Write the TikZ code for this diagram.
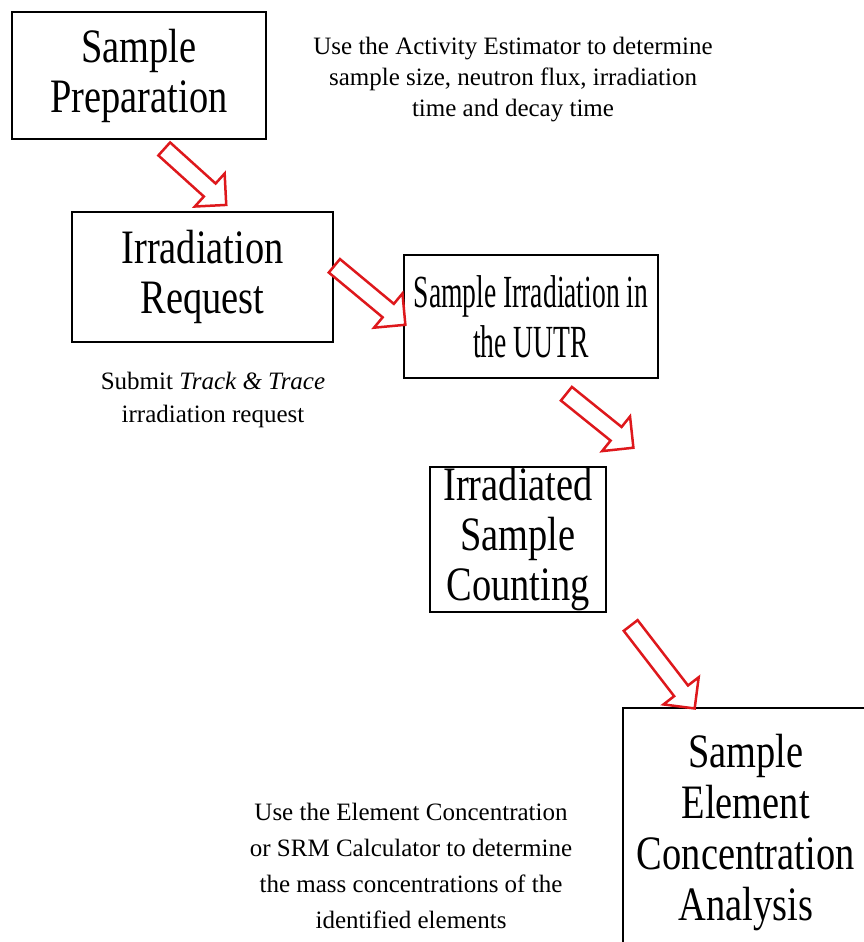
\documentclass[tikz,border=0pt]{standalone}
\usepackage{fontspec}
\setmainfont{Liberation Serif}
\newfontfamily\boxfont{Liberation Serif}[FakeStretch=0.8]
\newfontfamily\narrowfont{Liberation Serif}[FakeStretch=0.6]
\usetikzlibrary{calc,shapes.arrows}
\definecolor{arrowred}{RGB}{222,24,28}

\begin{document}
\begin{tikzpicture}[x=1pt, y=-1pt,
  box/.style = {draw, line width=1.5pt, inner sep=0pt, align=center, font=\boxfont\fontsize{48}{50}\selectfont},
  note/.style = {align=center, font=\fontsize{25}{31}\selectfont},
  flow/.style = {single arrow, draw=arrowred, fill=white, line width=2.5pt, inner sep=7.5pt, single arrow head extend=13.5pt}]
  \useasboundingbox (0,0) rectangle (864,942);
  \clip (0,0) rectangle (864,942);

  % Steps
  \node[box, minimum width=254pt, minimum height=127pt] (prep) at (139,75.5) {Sample\\Preparation};
  \node[box, minimum width=261pt, minimum height=130pt] (req) at (202.5,277) {Irradiation\\Request};
  \node[box, minimum width=254pt, minimum height=123pt, font=\narrowfont\fontsize{46}{50}\selectfont] (irr) at (531,316.5) {Sample Irradiation in\\the UUTR};
  \node[box, minimum width=176pt, minimum height=145pt] (count) at (518,539.5) {Irradiated\\Sample\\Counting};
  \node[box, minimum width=246pt, minimum height=250pt, anchor=north west, font=\boxfont\fontsize{48}{51}\selectfont] (conc) at (622,707) {Sample\\Element\\Concentration\\Analysis};

  % Notes
  \node[note] (est) at (513,80) {Use the Activity Estimator to determine\\sample size, neutron flux, irradiation\\time and decay time};
  \node[note, font=\fontsize{25}{33}\selectfont] (track) at (213,400) {Submit \textit{Track \& Trace}\\irradiation request};
  \node[note, font=\fontsize{25}{36}\selectfont] (srm) at (411,866) {Use the Element Concentration\\or SRM Calculator to determine\\the mass concentrations of the\\identified elements};

  % Arrows
  \coordinate (t1) at (161,146); \coordinate (h1) at (223,202);
  \coordinate (t2) at (331,263); \coordinate (h2) at (402,322);
  \coordinate (t3) at (563,391); \coordinate (h3) at (630,445);
  \coordinate (t4) at (628,622); \coordinate (h4) at (692,705);
  \foreach \s/\e in {t1/h1, t2/h2, t3/h3, t4/h4}
    \path let \p1 = ($(\e)-(\s)$), \n1 = {atan2(\y1,\x1)}, \n2 = {veclen(\x1,\y1)} in
      node[flow, minimum height=\n2, rotate=\n1] (arrow-\s) at ($(\s)!0.5!(\e)$) {};

\end{tikzpicture}
\end{document}
